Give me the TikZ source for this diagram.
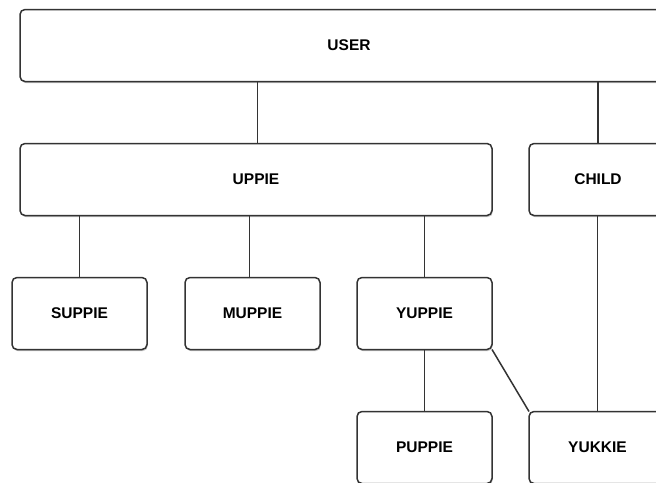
\documentclass[tikz,border=0pt]{standalone}
\usepackage{fontspec}
\setmainfont{Liberation Sans}
\usepackage{tikz}
\usetikzlibrary{positioning,shadows}
\colorlet{Edge}{black!80}

\begin{document}
\begin{tikzpicture}[
    x=1pt, y=1pt,
    box/.style={draw=Edge, line width=1.5pt, rounded corners=5pt, fill=white,
      inner sep=0pt, outer sep=0pt, minimum height=72pt,
      drop shadow={shadow xshift=0.8pt, shadow yshift=-1.6pt, opacity=0.3, fill=black!70},
      font={\fontsize{15.5}{17}\selectfont\bfseries}},
    small/.style={box, minimum width=135pt},
    link/.style={draw=Edge, line width=1.5pt}
    ]
    \useasboundingbox (0,0) rectangle (656,-482);
    \clip (0,0) rectangle (656,-482);

    \node [box, minimum width=658pt] (user) at (349,-45.5) {USER};
    \node [box, minimum width=472pt, below right=62pt and 0pt of user.south west] (uppie) {UPPIE};
    \node [box, minimum width=138pt, right=37pt of uppie] (child) {CHILD};
    \node [small, below right=62pt and -8pt of uppie.south west] (suppie) {SUPPIE};
    \node [small, right=38pt of suppie] (muppie) {MUPPIE};
    \node [small, right=37pt of muppie] (yuppie) {YUPPIE};
    \node [small, below=62pt of yuppie] (puppie) {PUPPIE};
    \node [small, minimum width=137pt, right=37pt of puppie] (yukkie) {YUKKIE};

    \draw[link] (uppie.north) ++(1.5,0) -- ++(0,62);
    \draw[link] (child.north) -- (child.north |- user.south);
    \draw[link] (suppie.north) -- (suppie.north |- uppie.south);
    \draw[link] (muppie.north) ++(-3,0) -- ++(0,62);
    \draw[link] (yuppie.north) -- (yuppie.north |- uppie.south);
    \draw[link] (yuppie) -- (puppie);
    \draw[link] (yukkie.north) -- (yukkie.north |- child.south);
    \draw[link] (yuppie.south east) -- (yukkie.north west);
\end{tikzpicture}
\end{document}
